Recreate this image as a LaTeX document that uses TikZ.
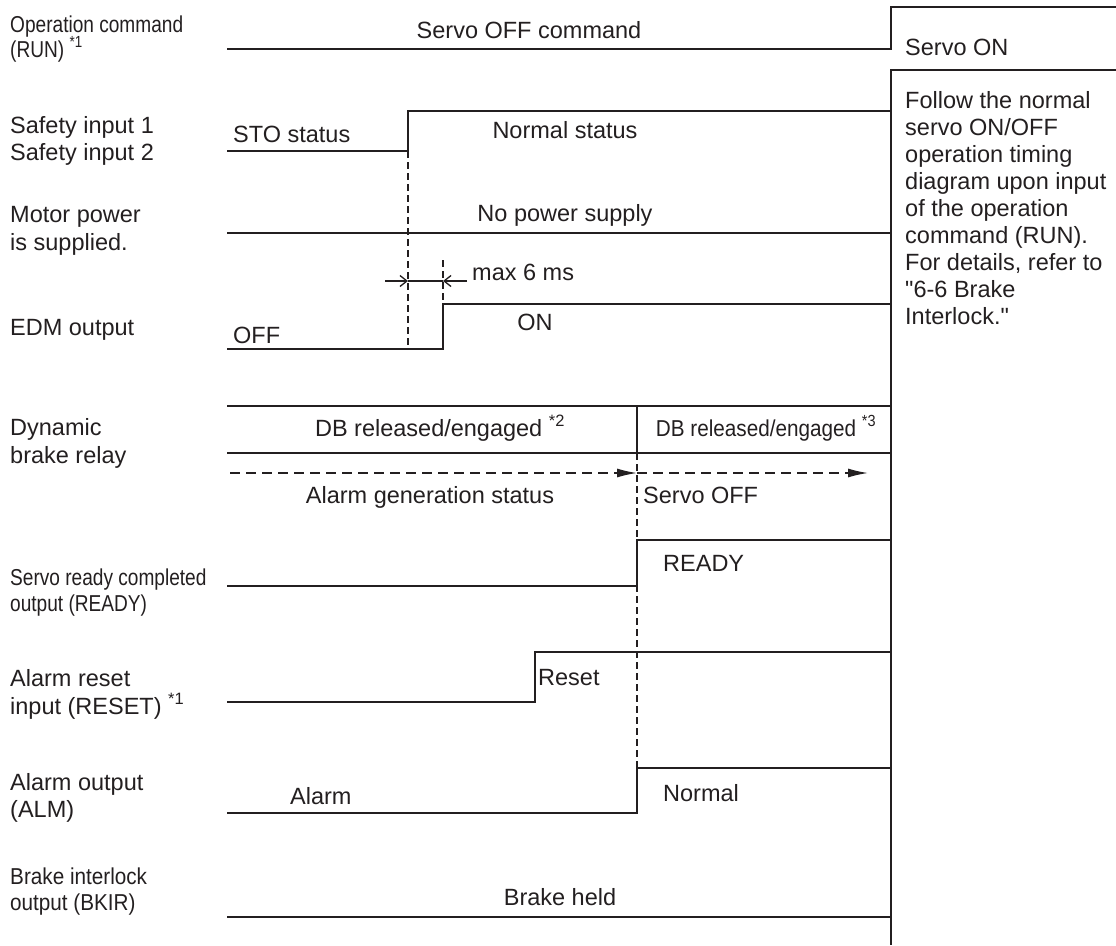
\documentclass[tikz,border=0pt]{standalone}
\usepackage{fontspec}
\setmainfont{Liberation Sans}
\newfontfamily\plainfont{Liberation Sans}
\newfontfamily\condfont[FakeStretch=0.83]{Liberation Sans}
\newfontfamily\semicondfont[FakeStretch=0.9]{Liberation Sans}
\usetikzlibrary{arrows.meta}
\definecolor{ink}{HTML}{231F20}
\begin{document}
\begin{tikzpicture}[x=1pt,y=-1pt,
  wave/.style={draw=ink,line width=1.4pt},
  guide/.style={draw=ink,line width=1.2pt,dash pattern=on 7pt off 4pt},
  darrow/.style={draw=ink,line width=1.4pt,dash pattern=on 10pt off 6pt,-{Latex[length=20pt,width=9pt]}},
  dimarr/.style={draw=ink,line width=1.3pt,-{Straight Barb[length=7pt,width=11pt]}},
  lbl/.style={anchor=base west,inner sep=0,text=ink,font=\plainfont\fontsize{23.5}{27}\selectfont},
  clbl/.style={anchor=base west,inner sep=0,text=ink,font=\condfont\fontsize{23}{27}\selectfont},
  sclbl/.style={anchor=base west,inner sep=0,text=ink,font=\semicondfont\fontsize{23}{27}\selectfont},
  mlbl/.style={lbl,anchor=base},
  smlbl/.style={sclbl,anchor=base}]
\useasboundingbox (0,0) rectangle (1116,945);

% ---- left labels
\node[clbl] (l1a) at (10,32) {Operation command};
\node[clbl] (l1b) at (10,57) {(RUN) \textsuperscript{*1}};
\node[lbl] (l2a) at (10,133) {Safety input 1};
\node[lbl] (l2b) at (10,160) {Safety input 2};
\node[lbl] (l3a) at (10,222) {Motor power};
\node[lbl] (l3b) at (10,250) {is supplied.};
\node[lbl] (l4) at (10,335) {EDM output};
\node[lbl] (l5a) at (10,435) {Dynamic};
\node[lbl] (l5b) at (10,463) {brake relay};
\node[clbl] (l6a) at (10,585) {Servo ready completed};
\node[clbl] (l6b) at (10,611) {output (READY)};
\node[lbl] (l7a) at (10,686) {Alarm reset};
\node[lbl] (l7b) at (10,714) {input (RESET) \textsuperscript{*1}};
\node[lbl] (l8a) at (10,790) {Alarm output};
\node[lbl] (l8b) at (10,817) {(ALM)};
\node[sclbl] (l9a) at (10,884) {Brake interlock};
\node[sclbl] (l9b) at (10,910) {output (BKIR)};

% ---- key x positions
\def\xs{227}\def\xa{408}\def\xb{443}\def\xr{535}\def\xc{637}\def\xe{891}

% ---- RUN
\coordinate (r0) at (\xs,49); \coordinate (r1) at (\xe,49);
\coordinate (r2) at (\xe,7); \coordinate (r3) at (1116,7);
\draw[wave] (r0) -- (r1) -- (r2) -- (r3);
\node[mlbl] (t1) at (529,38) {Servo OFF command};
\node[lbl] (t2) at (905,55) {Servo ON};

% ---- note box
\coordinate (n0) at (1116,70); \coordinate (n1) at (\xe,70); \coordinate (n2) at (\xe,945);
\draw[wave] (n0) -- (n1) -- (n2);
\foreach \t [count=\i] in {Follow the normal,servo ON/OFF,operation timing,diagram upon input,of the operation,command (RUN).,{For details, refer to},"6-6 Brake,Interlock."}
  \node[lbl] (note\i) at (905,{81+27*\i}) {\t};

% ---- Safety input
\coordinate (s0) at (\xs,151); \coordinate (s1) at (\xa,151);
\coordinate (s2) at (\xa,111); \coordinate (s3) at (\xe,111);
\draw[wave] (s0) -- (s1) -- (s2) -- (s3);
\node[lbl] (t3) at (233,142) {STO status};
\node[mlbl] (t4) at (565,138) {Normal status};

% ---- Motor power
\coordinate (m0) at (\xs,233); \coordinate (m1) at (\xe,233);
\draw[wave] (m0) -- (m1);
\node[mlbl] (t5) at (565,221) {No power supply};

% ---- EDM
\coordinate (e0) at (\xs,349); \coordinate (e1) at (\xb,349);
\coordinate (e2) at (\xb,304); \coordinate (e3) at (\xe,304);
\draw[wave] (e0) -- (e1) -- (e2) -- (e3);
\node[lbl] (t6) at (233,343) {OFF};
\node[mlbl] (t7) at (535,330) {ON};
\draw[guide] (s1) -- (\xa,349);
\coordinate (g2) at (\xb,260);
\draw[guide] (g2) -- (e2);
\coordinate (d0) at (385,281); \coordinate (d1) at (\xa,281);
\coordinate (d2) at (\xb,281); \coordinate (d3) at (467,281);
\draw[dimarr] (d0) -- (d1);
\draw[dimarr] (d3) -- (d2);
\draw[wave,line width=1.3pt] (d1) -- (d2);
\node[lbl] (t8) at (472,280) {max 6 ms};

% ---- Dynamic brake relay
\coordinate (b0) at (\xs,406); \coordinate (b1) at (\xe,406);
\coordinate (b2) at (\xs,453); \coordinate (b3) at (\xe,453);
\coordinate (b4) at (\xc,406); \coordinate (b5) at (\xc,453);
\draw[wave] (b0) -- (b1);
\draw[wave] (b2) -- (b3);
\draw[wave] (b4) -- (b5);
\node[mlbl] (t9) at (440,436) {DB released/engaged \textsuperscript{*2}};
\node[smlbl] (t10) at (766,436) {DB released/engaged \textsuperscript{*3}};
\coordinate (a0) at (230,473); \coordinate (a1) at (\xc,473); \coordinate (a2) at (868,473);
\draw[darrow] (a0) -- (a1);
\draw[darrow] (a1) -- (a2);
\node[mlbl] (t11) at (430,503) {Alarm generation status};
\node[lbl] (t12) at (643,503) {Servo OFF};

% ---- READY
\coordinate (y0) at (\xs,586); \coordinate (y1) at (\xc,586);
\coordinate (y2) at (\xc,540); \coordinate (y3) at (\xe,540);
\draw[wave] (y0) -- (y1) -- (y2) -- (y3);
\node[lbl] (t13) at (663,571) {READY};

% ---- RESET
\coordinate (q0) at (\xs,702); \coordinate (q1) at (\xr,702);
\coordinate (q2) at (\xr,652); \coordinate (q3) at (\xe,652);
\draw[wave] (q0) -- (q1) -- (q2) -- (q3);
\node[lbl] (t14) at (538,685) {Reset};

% ---- ALM
\coordinate (w0) at (\xs,813); \coordinate (w1) at (\xc,813);
\coordinate (w2) at (\xc,768); \coordinate (w3) at (\xe,768);
\draw[wave] (w0) -- (w1) -- (w2) -- (w3);
\node[lbl] (t15) at (290,804) {Alarm};
\node[lbl] (t16) at (663,801) {Normal};

% ---- common dashed guide
\draw[guide] (b5) -- (w2);

% ---- Brake
\coordinate (k0) at (\xs,917); \coordinate (k1) at (\xe,917);
\draw[wave] (k0) -- (k1);
\node[mlbl] (t17) at (560,905) {Brake held};
\end{tikzpicture}
\end{document}
